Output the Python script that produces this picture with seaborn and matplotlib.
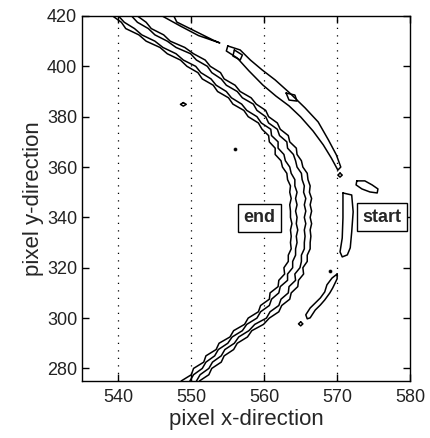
import numpy as np
import pandas as pd
import seaborn as sns
import matplotlib
matplotlib.use('Agg')
from matplotlib import pyplot as plt

sns.set_style('ticks')
plt.rcParams['font.family'] = ['Liberation Sans', 'DejaVu Sans']

# main arc: four contour lines, x read at fixed y levels
arc_y = [420.0, 417.5, 415.0, 412.5, 410.0, 407.5, 405.0, 402.5, 400.0, 397.5,
         395.0, 392.5, 390.0, 387.5, 385.0, 382.5, 380.0, 377.5, 375.0, 372.5,
         370.0, 367.5, 365.0, 362.5, 360.0, 357.5, 355.0, 352.5, 350.0, 347.5,
         345.0, 342.5, 340.0, 337.5, 335.0, 332.5, 330.0, 327.5, 325.0, 322.5,
         320.0, 317.5, 315.0, 312.5, 310.0, 307.5, 305.0, 302.5, 300.0, 297.5,
         295.0, 292.5, 290.0, 287.5, 285.0, 282.5, 280.0, 277.5, 275.0]
arc_x1 = [539.2, 540.4, 541.0, 542.8, 543.8, 545.7, 546.7, 548.5, 549.4, 550.9,
          551.5, 553.0, 553.6, 555.1, 555.7, 557.2, 557.8, 559.2, 559.7, 560.6,
          560.7, 561.5, 561.5, 562.3, 562.5, 563.1, 563.2, 563.6, 563.5, 563.7,
          563.5, 563.6, 563.6, 563.8, 563.6, 563.7, 563.6, 563.7, 563.3, 563.3,
          562.7, 562.8, 562.0, 561.9, 560.8, 560.7, 559.5, 559.2, 557.8, 557.3,
          555.8, 555.3, 553.8, 553.4, 552.0, 551.7, 550.3, 550.0, 548.6]
arc_x2 = [540.0, 540.8, 542.2, 543.2, 545.0, 546.1, 547.9, 548.9, 550.6, 551.3,
          552.7, 553.4, 554.8, 555.5, 556.9, 557.6, 559.0, 559.6, 560.9, 561.0,
          561.9, 561.9, 562.7, 562.9, 563.5, 563.7, 564.2, 564.2, 564.5, 564.3,
          564.5, 564.3, 564.5, 564.4, 564.6, 564.4, 564.5, 564.3, 564.3, 563.9,
          563.9, 563.2, 563.2, 562.2, 562.0, 561.0, 560.7, 559.5, 559.0, 557.6,
          557.0, 555.6, 555.0, 553.7, 553.2, 552.0, 551.5, 550.3, 549.8]
arc_x3 = [541.8, 542.6, 544.1, 545.0, 546.7, 547.9, 549.9, 550.7, 552.2, 552.8,
          554.1, 554.8, 556.3, 557.0, 558.5, 559.0, 560.2, 560.6, 561.8, 562.1,
          563.1, 563.2, 564.0, 564.3, 564.5, 565.1, 565.2, 565.5, 565.4, 565.7,
          565.5, 565.7, 565.5, 565.7, 565.5, 565.6, 565.5, 565.5, 565.1, 565.1,
          564.9, 564.2, 564.3, 563.4, 563.3, 562.3, 562.0, 560.8, 560.3, 558.7,
          557.9, 556.5, 555.9, 554.6, 554.1, 552.9, 552.4, 551.2, 550.7]
arc_x4 = [542.6, 543.8, 544.5, 546.2, 547.1, 549.1, 550.3, 551.9, 552.6, 554.0,
          554.5, 556.0, 556.7, 558.2, 558.9, 560.2, 560.6, 561.8, 562.2, 563.3,
          563.5, 564.4, 564.5, 565.1, 565.3, 565.9, 566.0, 566.3, 566.2, 566.5,
          566.3, 566.5, 566.3, 566.5, 566.3, 566.4, 566.3, 566.3, 565.9, 565.9,
          565.3, 565.4, 564.7, 564.6, 563.7, 563.5, 562.4, 562.0, 560.7, 559.9,
          558.3, 557.7, 556.3, 555.8, 554.5, 554.1, 552.8, 552.4, 551.1]

# closed contour loops
sliver_x = [546.0, 548.5, 551.0, 553.9, 553.0, 550.5, 548.0, 547.6]
sliver_y = [420.0, 416.0, 412.2, 409.3, 410.4, 414.0, 417.6, 420.0]

streak_x = [555.0, 556.7, 558.1, 559.7, 561.5, 563.5, 565.6, 567.4, 568.8, 569.9, 570.5,
            570.1, 569.2, 568.1, 566.7, 565.0, 563.4, 561.6, 559.8, 557.9, 556.3, 554.8, 555.0]
streak_y = [408.1, 406.5, 402.5, 398.6, 394.6, 389.4, 383.5, 377.9, 370.8, 364.8, 360.0,
            358.8, 363.6, 368.8, 374.3, 379.9, 384.3, 388.2, 392.6, 398.2, 403.3, 406.1, 408.1]

knot_a_x = [555.9, 557.0, 556.7, 555.7, 555.9]
knot_a_y = [406.5, 404.5, 402.5, 404.1, 406.5]
knot_b_x = [563.0, 564.2, 564.5, 563.4, 563.0]
knot_b_y = [389.4, 388.6, 386.2, 386.6, 389.4]

blob_x = [572.7, 573.8, 574.8, 575.6, 575.5, 574.5, 573.4, 572.6, 572.7]
blob_y = [354.5, 354.5, 352.9, 351.3, 349.7, 350.1, 351.3, 352.9, 354.5]

column_x = [570.8, 572.0, 572.2, 572.0, 571.8, 571.4, 570.7, 570.4, 570.7, 570.8, 570.8, 570.8]
column_y = [349.7, 348.9, 342.2, 334.2, 327.9, 325.1, 324.3, 326.3, 331.8, 339.8, 347.7, 349.7]

lower_x = [570.0, 569.3, 568.6, 568.3, 567.7, 567.0, 566.3, 565.7, 565.9,
           566.3, 567.0, 567.7, 568.3, 569.0, 569.4, 570.0, 570.0]
lower_y = [317.5, 315.9, 313.2, 310.4, 308.0, 306.0, 304.0, 301.3, 299.7,
           300.1, 303.2, 305.2, 307.2, 310.0, 312.0, 315.6, 317.5]

ring1_x = [570.4, 570.7, 570.4, 570.1, 570.4]
ring1_y = [357.6, 356.8, 356.0, 356.8, 357.6]
ring2_x = [565.0, 565.3, 565.0, 564.7, 565.0]
ring2_y = [298.5, 297.7, 296.9, 297.7, 298.5]
ring3_x = [548.9, 549.3, 548.9, 548.5, 548.9]
ring3_y = [385.6, 384.9, 384.2, 384.9, 385.6]

dot_x = [569.0, 556.0]
dot_y = [318.8, 367.2]

label_text = ['end', 'start']
label_x = [559.3, 576.1]
label_y = [339.8, 340.0]

grid_x = [540, 550, 560, 570]
x_ticks = [540, 550, 560, 570, 580]
y_ticks = [280, 300, 320, 340, 360, 380, 400, 420]

fig = plt.figure(figsize=(4.31, 4.38), dpi=100)
ax = fig.add_axes([0.1903, 0.1301, 0.761, 0.8334])

for gx in grid_x:
    ax.axvline(gx, color='black', lw=0.9, ls=(0, (1, 5)), zorder=1)

for xs in [arc_x1, arc_x2, arc_x3, arc_x4]:
    sns.lineplot(x=xs, y=arc_y, sort=False, estimator=None, color='black',
                 linewidth=1.1, ax=ax)

loops = [(sliver_x, sliver_y), (streak_x, streak_y), (knot_a_x, knot_a_y),
         (knot_b_x, knot_b_y), (blob_x, blob_y), (column_x, column_y),
         (lower_x, lower_y), (ring1_x, ring1_y), (ring2_x, ring2_y),
         (ring3_x, ring3_y)]
for lx, ly in loops:
    sns.lineplot(x=lx, y=ly, sort=False, estimator=None, color='black',
                 linewidth=1.1, ax=ax)

sns.scatterplot(x=dot_x, y=dot_y, color='black', s=8, ax=ax, zorder=3)

for t, tx, ty in zip(label_text, label_x, label_y):
    ax.text(tx, ty, t, ha='center', va='center', fontsize=13, fontweight='bold',
            bbox=dict(boxstyle='square,pad=0.3', fc='white', ec='black', lw=1.0),
            zorder=5)

ax.set_xlim(535, 580)
ax.set_ylim(275, 420)
ax.set_xticks(x_ticks)
ax.set_yticks(y_ticks)
ax.tick_params(direction='in', top=True, right=True, length=5, width=1,
               labelsize=13, colors='black', labelcolor='#222222')
ax.tick_params(axis='x', pad=6)
ax.set_xlabel('pixel x-direction', fontsize=16, labelpad=2)
ax.set_ylabel('pixel y-direction', fontsize=16, labelpad=2)
for sp in ax.spines.values():
    sp.set_visible(True)
    sp.set_color('black')
    sp.set_linewidth(1.0)

plt.savefig('out.png', dpi=100)
